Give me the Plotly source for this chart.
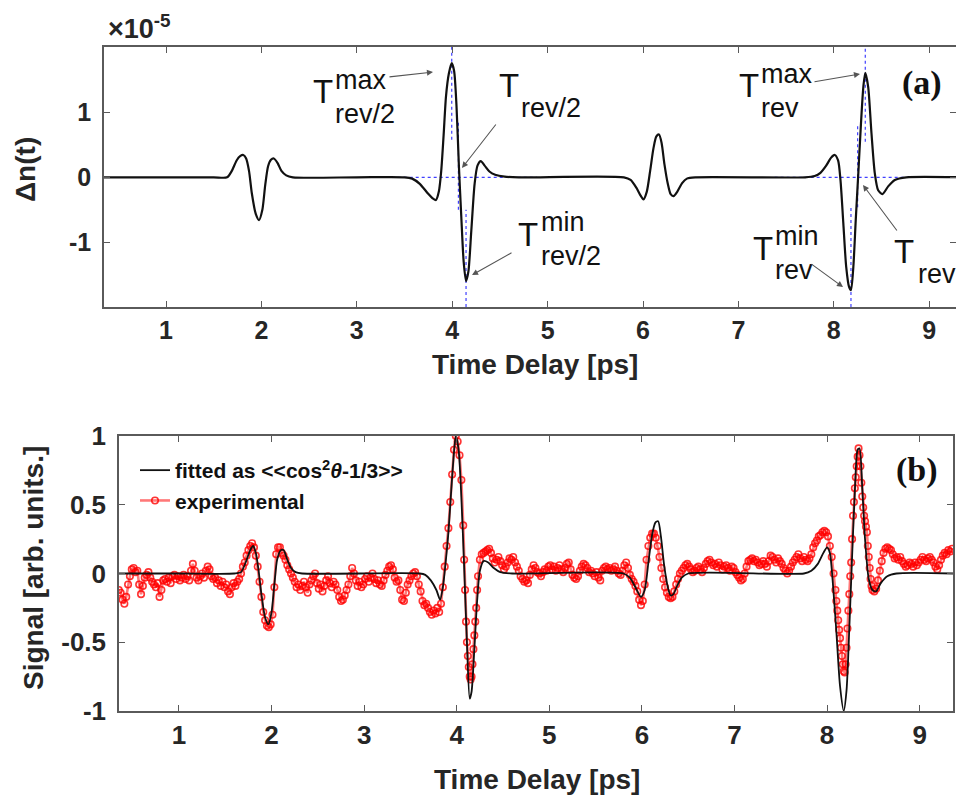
import plotly.graph_objects as go

# ---------------- data ----------------
# (a) calculated refractive-index change, units of 1e-5
dn_t = [0.35, 1.0, 1.5, 1.64, 1.69, 1.74, 1.78, 1.81, 1.84, 1.87, 1.90, 1.94, 1.975, 2.01, 2.04,
        2.07, 2.10, 2.13, 2.17, 2.21, 2.26, 2.33, 3.0, 3.5, 3.58, 3.66, 3.74, 3.80, 3.83, 3.86,
        3.885, 3.91, 3.935, 3.965, 3.995, 4.02, 4.045, 4.07, 4.095, 4.12, 4.145, 4.17, 4.20,
        4.235, 4.265, 4.30, 4.34, 4.39, 4.45, 4.55, 4.7, 5.8, 5.87, 5.93, 5.97, 6.005, 6.04,
        6.075, 6.11, 6.14, 6.168, 6.195, 6.225, 6.26, 6.29, 6.32, 6.36, 6.41, 6.46, 6.55, 7.7,
        7.8, 7.86, 7.92, 7.97, 8.01, 8.045, 8.07, 8.10, 8.13, 8.16, 8.18, 8.205, 8.23, 8.257,
        8.285, 8.31, 8.33, 8.36, 8.395, 8.43, 8.465, 8.51, 8.57, 8.64, 8.76, 9.35]
dn_val = [0.0, 0.0, 0.0, 0.0, 0.1, 0.26, 0.33, 0.345, 0.29, 0.1, -0.25, -0.56, -0.66, -0.5, -0.12,
          0.17, 0.27, 0.29, 0.22, 0.1, 0.03, 0.0, 0.0, 0.0, -0.02, -0.1, -0.24, -0.33, -0.35, -0.22,
          0.1, 0.65, 1.25, 1.6, 1.76, 1.64, 1.1, 0.18, -0.6, -1.3, -1.6, -1.45, -0.83,
          -0.1, 0.18, 0.25, 0.18, 0.09, 0.04, 0.01, 0.0, 0.0, -0.04, -0.16, -0.27, -0.34, -0.22,
          0.1, 0.45, 0.63, 0.66, 0.53, 0.2, -0.1, -0.26, -0.29, -0.22, -0.09, -0.02, 0.0, 0.0,
          0.02, 0.07, 0.18, 0.3, 0.345, 0.26, -0.04, -0.71, -1.38, -1.69, -1.74, -1.38, -0.66, 0.06,
          0.83, 1.4, 1.61, 1.4, 0.68, 0.06, -0.2, -0.26, -0.14, -0.04, 0.0, 0.0]

# revival time markers (ps) with the vertical extent of each dotted guide (units of 1e-5)
guide_t = [3.995, 4.065, 4.145, 8.33, 8.25, 8.18]
guide_lo = [0.58, -0.5, -2.0, 0.55, -0.46, -2.0]
guide_hi = [2.02, 0.86, -0.5, 2.02, 0.81, -0.47]
zero_guide_from = [3.24, 7.38]
zero_guide_to = [4.89, 9.03]

# (b) fitted alignment signal <<cos^2(theta) - 1/3>>, normalised
fit_t = [0.35, 1.0, 1.6, 1.67, 1.72, 1.77, 1.80, 1.83, 1.86, 1.89, 1.93, 1.965, 2.0, 2.03, 2.06,
         2.10, 2.13, 2.17, 2.21, 2.26, 2.33, 3.6, 3.66, 3.72, 3.78, 3.82, 3.85, 3.88, 3.91, 3.94,
         3.97, 3.99, 4.02, 4.05, 4.08, 4.11, 4.14, 4.16, 4.19, 4.22, 4.25, 4.29, 4.34, 4.40, 4.47,
         4.6, 5.8, 5.87, 5.93, 5.99, 6.03, 6.07, 6.11, 6.145, 6.175, 6.205, 6.24, 6.28, 6.31, 6.34,
         6.38, 6.43, 6.5, 7.75, 7.83, 7.9, 7.96, 8.0, 8.03, 8.06, 8.10, 8.14, 8.18, 8.21, 8.24,
         8.27, 8.30, 8.33, 8.35, 8.38, 8.41, 8.45, 8.49, 8.53, 8.58, 8.65, 8.75, 9.36]
fit_val = [0.0, 0.0, 0.0, 0.01, 0.08, 0.17, 0.2, 0.15, 0.02, -0.15, -0.32, -0.37, -0.28, -0.08, 0.1,
           0.17, 0.17, 0.1, 0.04, 0.01, 0.0, 0.0, -0.01, -0.05, -0.12, -0.19, -0.1, 0.08, 0.3, 0.6,
           0.88, 1.0, 0.9, 0.55, 0.05, -0.5, -0.91, -0.86, -0.55, -0.2, 0.02, 0.09, 0.08, 0.04, 0.01,
           0.0, 0.0, -0.03, -0.1, -0.17, -0.12, 0.08, 0.28, 0.37, 0.38, 0.27, 0.06, -0.1, -0.16, -0.15,
           -0.09, -0.03, 0.0, 0.0, 0.02, 0.07, 0.15, 0.19, 0.15, -0.05, -0.42, -0.82, -1.0, -0.85, -0.4,
           0.12, 0.6, 0.9, 0.91, 0.62, 0.25, -0.04, -0.12, -0.13, -0.07, -0.02, 0.0, 0.0]

# (b) measured signal, (time delay [ps], signal)
experimental = [
    (0.35, -0.12), (0.37, -0.14), (0.39, -0.19), (0.41, -0.22), (0.43, -0.17), (0.45, -0.08),
    (0.47, -0.02), (0.49, 0.03), (0.51, 0.04), (0.53, 0.01), (0.55, 0.02), (0.57, -0.08),
    (0.59, -0.15), (0.61, -0.09), (0.63, -0.03), (0.65, -0.01), (0.67, 0.01), (0.69, -0.03),
    (0.71, -0.06), (0.73, -0.08), (0.75, -0.10), (0.77, -0.07), (0.79, -0.17), (0.81, -0.12),
    (0.83, -0.05), (0.85, -0.04), (0.87, -0.06), (0.89, -0.03), (0.91, -0.07), (0.93, -0.02),
    (0.95, -0.01), (0.97, -0.04), (0.99, -0.02), (1.01, -0.05), (1.03, -0.03), (1.05, -0.01),
    (1.07, -0.04), (1.09, -0.02), (1.11, -0.05), (1.13, 0.02), (1.15, 0.07), (1.17, 0.02),
    (1.19, -0.03), (1.21, -0.05), (1.23, -0.02), (1.25, 0.00), (1.27, -0.03), (1.29, 0.02),
    (1.31, 0.05), (1.33, 0.03), (1.35, -0.02), (1.37, -0.04), (1.39, -0.03), (1.41, -0.07),
    (1.43, -0.05), (1.45, -0.09), (1.47, -0.06), (1.49, -0.10), (1.51, -0.08), (1.53, -0.13),
    (1.55, -0.15), (1.57, -0.10), (1.59, -0.07), (1.61, -0.09), (1.63, -0.06), (1.65, -0.04),
    (1.67, 0.00), (1.69, 0.05), (1.71, 0.08), (1.73, 0.13), (1.75, 0.17), (1.77, 0.20),
    (1.79, 0.22), (1.81, 0.19), (1.83, 0.13), (1.85, 0.05), (1.87, -0.06), (1.89, -0.17),
    (1.91, -0.28), (1.93, -0.34), (1.95, -0.38), (1.97, -0.39), (1.99, -0.37), (2.01, -0.30),
    (2.03, -0.10), (2.05, 0.14), (2.07, 0.19), (2.09, 0.19), (2.11, 0.15), (2.13, 0.13),
    (2.15, 0.10), (2.17, 0.06), (2.19, 0.03), (2.21, 0.00), (2.23, -0.03), (2.25, -0.06),
    (2.27, -0.10), (2.29, -0.08), (2.31, -0.12), (2.33, -0.09), (2.35, -0.06), (2.37, -0.10),
    (2.39, -0.14), (2.41, -0.08), (2.43, -0.05), (2.45, -0.02), (2.47, 0.00), (2.49, -0.07),
    (2.51, -0.11), (2.53, -0.08), (2.55, -0.13), (2.57, -0.09), (2.59, -0.05), (2.61, -0.02),
    (2.63, -0.07), (2.65, -0.10), (2.67, -0.06), (2.69, -0.08), (2.71, -0.12), (2.73, -0.17),
    (2.75, -0.20), (2.77, -0.19), (2.79, -0.16), (2.81, -0.12), (2.83, -0.08), (2.85, -0.02),
    (2.87, 0.04), (2.89, 0.00), (2.91, -0.05), (2.93, -0.09), (2.95, -0.06), (2.97, -0.10),
    (2.99, -0.08), (3.01, -0.04), (3.03, -0.02), (3.05, -0.06), (3.07, -0.03), (3.09, 0.00),
    (3.11, -0.04), (3.13, -0.07), (3.15, -0.05), (3.17, -0.08), (3.19, -0.09), (3.21, -0.05),
    (3.23, -0.01), (3.25, 0.02), (3.27, 0.05), (3.29, 0.06), (3.31, 0.03), (3.33, -0.03),
    (3.35, -0.06), (3.37, -0.05), (3.39, -0.12), (3.41, -0.19), (3.43, -0.20), (3.45, -0.14),
    (3.47, -0.08), (3.49, -0.05), (3.51, -0.02), (3.53, 0.00), (3.55, 0.01), (3.57, -0.02),
    (3.59, -0.08), (3.61, -0.13), (3.63, -0.20), (3.65, -0.23), (3.67, -0.22), (3.69, -0.25),
    (3.71, -0.28), (3.73, -0.30), (3.75, -0.27), (3.77, -0.29), (3.79, -0.25), (3.81, -0.28),
    (3.83, -0.22), (3.85, -0.10), (3.87, 0.05), (3.89, 0.20), (3.91, 0.33), (3.93, 0.52),
    (3.95, 0.72), (3.97, 0.90), (3.99, 1.00), (4.01, 0.96), (4.03, 0.86), (4.05, 0.68),
    (4.07, 0.35), (4.08, 0.10), (4.09, -0.12), (4.10, -0.35), (4.11, -0.50), (4.12, -0.60),
    (4.13, -0.68), (4.14, -0.75), (4.15, -0.77), (4.16, -0.75), (4.17, -0.66), (4.18, -0.55),
    (4.19, -0.45), (4.20, -0.35), (4.21, -0.25), (4.22, -0.12), (4.23, -0.02), (4.25, 0.10),
    (4.27, 0.14), (4.29, 0.15), (4.31, 0.16), (4.33, 0.17), (4.35, 0.18), (4.37, 0.15),
    (4.39, 0.11), (4.41, 0.08), (4.43, 0.10), (4.45, 0.12), (4.47, 0.09), (4.49, 0.06),
    (4.51, 0.03), (4.53, 0.05), (4.55, 0.08), (4.57, 0.11), (4.59, 0.10), (4.61, 0.12),
    (4.63, 0.08), (4.65, 0.05), (4.67, 0.02), (4.69, -0.02), (4.71, -0.04), (4.73, -0.06),
    (4.75, -0.05), (4.77, -0.07), (4.79, -0.01), (4.81, 0.03), (4.83, 0.06), (4.85, 0.04),
    (4.87, 0.01), (4.89, 0.00), (4.91, -0.02), (4.93, 0.01), (4.95, 0.03), (4.97, 0.02),
    (4.99, 0.05), (5.01, 0.06), (5.03, 0.03), (5.05, 0.05), (5.07, 0.02), (5.09, 0.04),
    (5.11, 0.06), (5.13, 0.03), (5.15, 0.01), (5.17, 0.04), (5.19, 0.07), (5.21, 0.08),
    (5.23, 0.03), (5.25, -0.01), (5.27, -0.03), (5.29, -0.04), (5.31, -0.02), (5.33, 0.02),
    (5.35, 0.05), (5.37, 0.07), (5.39, 0.06), (5.41, 0.04), (5.43, 0.01), (5.45, 0.02),
    (5.47, 0.00), (5.49, -0.02), (5.51, 0.01), (5.53, -0.03), (5.55, -0.05), (5.57, 0.02),
    (5.59, 0.04), (5.61, 0.05), (5.63, 0.03), (5.65, 0.04), (5.67, 0.02), (5.69, 0.03),
    (5.71, 0.05), (5.73, 0.02), (5.75, 0.00), (5.77, -0.01), (5.79, 0.02), (5.81, 0.06),
    (5.83, 0.08), (5.85, 0.04), (5.87, -0.01), (5.89, -0.04), (5.91, -0.06), (5.93, -0.09),
    (5.95, -0.13), (5.97, -0.19), (5.99, -0.23), (6.01, -0.20), (6.03, -0.08), (6.05, 0.10),
    (6.07, 0.20), (6.09, 0.26), (6.11, 0.29), (6.13, 0.29), (6.15, 0.26), (6.17, 0.20),
    (6.19, 0.12), (6.21, 0.04), (6.23, -0.04), (6.25, -0.10), (6.27, -0.14), (6.29, -0.17),
    (6.31, -0.18), (6.33, -0.17), (6.35, -0.13), (6.37, -0.08), (6.39, -0.04), (6.41, 0.00),
    (6.43, 0.02), (6.45, 0.04), (6.47, 0.06), (6.49, 0.07), (6.51, 0.05), (6.53, 0.03),
    (6.55, 0.01), (6.57, 0.02), (6.59, 0.04), (6.61, 0.05), (6.63, 0.03), (6.65, 0.01),
    (6.67, 0.04), (6.69, 0.07), (6.71, 0.09), (6.73, 0.10), (6.75, 0.08), (6.77, 0.06),
    (6.79, 0.07), (6.81, 0.05), (6.83, 0.08), (6.85, 0.06), (6.87, 0.03), (6.89, 0.05),
    (6.91, 0.06), (6.93, 0.04), (6.95, 0.02), (6.97, 0.05), (6.99, 0.04), (7.01, 0.01),
    (7.03, -0.01), (7.05, -0.03), (7.07, -0.05), (7.09, -0.04), (7.11, 0.00), (7.13, 0.05),
    (7.15, 0.09), (7.17, 0.10), (7.19, 0.11), (7.21, 0.09), (7.23, 0.10), (7.25, 0.08),
    (7.27, 0.06), (7.29, 0.07), (7.31, 0.09), (7.33, 0.07), (7.35, 0.05), (7.37, 0.09),
    (7.39, 0.13), (7.41, 0.12), (7.43, 0.10), (7.45, 0.08), (7.47, 0.11), (7.49, 0.09),
    (7.51, 0.07), (7.53, 0.04), (7.55, 0.02), (7.57, 0.00), (7.59, 0.02), (7.61, 0.05),
    (7.63, 0.08), (7.65, 0.10), (7.67, 0.12), (7.69, 0.14), (7.71, 0.11), (7.73, 0.09),
    (7.75, 0.12), (7.77, 0.10), (7.79, 0.09), (7.81, 0.11), (7.83, 0.14), (7.85, 0.19),
    (7.87, 0.22), (7.89, 0.24), (7.91, 0.27), (7.93, 0.28), (7.95, 0.30), (7.97, 0.31),
    (7.99, 0.30), (8.01, 0.27), (8.03, 0.20), (8.05, 0.12), (8.07, 0.00), (8.09, -0.12),
    (8.10, -0.20), (8.11, -0.27), (8.12, -0.34), (8.13, -0.41), (8.14, -0.47), (8.15, -0.54),
    (8.16, -0.60), (8.17, -0.66), (8.18, -0.71), (8.19, -0.72), (8.20, -0.66), (8.21, -0.54),
    (8.22, -0.40), (8.23, -0.27), (8.24, -0.15), (8.25, -0.02), (8.26, 0.08), (8.27, 0.25),
    (8.28, 0.42), (8.29, 0.52), (8.30, 0.62), (8.31, 0.70), (8.32, 0.78), (8.33, 0.85),
    (8.34, 0.91), (8.35, 0.86), (8.36, 0.78), (8.37, 0.66), (8.38, 0.56), (8.39, 0.48),
    (8.40, 0.42), (8.41, 0.38), (8.42, 0.34), (8.43, 0.30), (8.44, 0.20), (8.45, 0.12),
    (8.46, 0.04), (8.47, -0.04), (8.48, -0.09), (8.49, -0.12), (8.51, -0.13), (8.53, -0.11),
    (8.55, -0.05), (8.57, 0.02), (8.59, 0.09), (8.61, 0.15), (8.63, 0.18), (8.65, 0.19),
    (8.67, 0.18), (8.69, 0.17), (8.71, 0.14), (8.73, 0.11), (8.75, 0.12), (8.77, 0.10),
    (8.79, 0.12), (8.81, 0.09), (8.83, 0.07), (8.85, 0.05), (8.87, 0.06), (8.89, 0.08),
    (8.91, 0.07), (8.93, 0.05), (8.95, 0.08), (8.97, 0.06), (8.99, 0.08), (9.01, 0.10),
    (9.03, 0.12), (9.05, 0.10), (9.07, 0.09), (9.09, 0.11), (9.11, 0.12), (9.13, 0.10),
    (9.15, 0.08), (9.17, 0.05), (9.19, 0.03), (9.21, 0.06), (9.23, 0.10), (9.25, 0.13),
    (9.27, 0.15), (9.29, 0.14), (9.31, 0.17), (9.33, 0.16), (9.35, 0.18),
]
exp_t = [p[0] for p in experimental]
exp_sig = [p[1] for p in experimental]

x_ticks = [1, 2, 3, 4, 5, 6, 7, 8, 9]
dn_ticks = [-1, 0, 1]
sig_ticks = [-1, -0.5, 0, 0.5, 1]
sig_ticktext = ["-1", "-0.5", "0", "0.5", "1"]

# ---------------- figure ----------------
W, H = 956, 796
def px(x):
    return x / W
def py(y):
    return 1 - y / H

SANS = "Liberation Sans, Arial, Helvetica, sans-serif"
SERIF = "Liberation Serif, Times New Roman, serif"
AX = "#5a5a5a"
TXT = "#262626"
BLUE = "rgba(30,30,255,0.85)"

fig = go.Figure()

# dotted guides on panel (a)
for t0, lo, hi in zip(guide_t, guide_lo, guide_hi):
    fig.add_trace(go.Scatter(x=[t0, t0], y=[lo, hi], mode="lines", xaxis="x", yaxis="y",
                             line=dict(color=BLUE, width=1.2, dash="dot"),
                             showlegend=False, hoverinfo="skip"))
for a, b in zip(zero_guide_from, zero_guide_to):
    fig.add_trace(go.Scatter(x=[a, b], y=[0, 0], mode="lines", xaxis="x", yaxis="y",
                             line=dict(color=BLUE, width=1.2, dash="dot"),
                             showlegend=False, hoverinfo="skip"))

fig.add_trace(go.Scatter(x=dn_t, y=dn_val, mode="lines", xaxis="x", yaxis="y",
                         line=dict(color="#111111", width=2.2, shape="spline", smoothing=0.7),
                         showlegend=False))

fig.add_trace(go.Scatter(x=exp_t, y=exp_sig, mode="lines+markers", xaxis="x2", yaxis="y2",
                         name="experimental", legendrank=2,
                         line=dict(color="rgba(255,30,30,0.6)", width=2.6),
                         marker=dict(symbol="circle-open", size=6.5,
                                     color="rgba(255,0,0,0.8)", line=dict(width=1.6))))
fig.add_trace(go.Scatter(x=fit_t, y=fit_val, mode="lines", xaxis="x2", yaxis="y2",
                         name="fitted as &lt;&lt;cos<sup>2</sup><i>θ</i>-1/3&gt;&gt;", legendrank=1,
                         line=dict(color="#111111", width=1.8, shape="spline", smoothing=0.7)))

axis_common = dict(showgrid=False, zeroline=False, showline=True, linecolor=AX, linewidth=1.5,
                   mirror="allticks", ticks="inside", ticklen=6, tickwidth=1.2, tickcolor=AX,
                   automargin=False)

fig.update_layout(
    width=W, height=H, margin=dict(l=0, r=0, t=0, b=0, autoexpand=False),
    paper_bgcolor="white", plot_bgcolor="white",
    xaxis=dict(domain=[px(104), 1.0], range=[0.35, 9.281], tickvals=x_ticks, anchor="y",
               tickfont=dict(family=SANS, size=25, color=TXT, weight="bold"),
               ticklabelstandoff=0, **axis_common),
    yaxis=dict(domain=[py(307), py(47)], range=[-2.0, 2.01], tickvals=dn_ticks,
               ticktext=["-1", "0", "1"], anchor="x",
               tickfont=dict(family=SANS, size=25, color=TXT, weight="bold"),
               ticklabelstandoff=6, **axis_common),
    xaxis2=dict(domain=[px(119), px(953)], range=[0.352, 9.36], tickvals=x_ticks, anchor="y2",
                tickfont=dict(family=SANS, size=26, color=TXT, weight="bold"),
                ticklabelstandoff=0, **axis_common),
    yaxis2=dict(domain=[py(711), py(436)], range=[-1, 1], tickvals=sig_ticks,
                ticktext=sig_ticktext, anchor="x2",
                tickfont=dict(family=SANS, size=26, color=TXT, weight="bold"),
                ticklabelstandoff=6, **axis_common),
    legend=dict(x=px(135), y=py(450), xanchor="left", yanchor="top",
                bgcolor="rgba(0,0,0,0)", borderwidth=0, itemwidth=30,
                font=dict(family=SANS, size=21, color="#111111", weight="bold")),
    showlegend=True,
)

ann = []
def text(x, y, s, size, bold=False, family=SANS, angle=0, xanchor="center", color="#111111"):
    ann.append(dict(xref="paper", yref="paper", x=px(x), y=py(y), text=s, showarrow=False,
                    xanchor=xanchor, yanchor="middle", textangle=angle,
                    font=dict(family=family, size=size, color=color,
                              weight="bold" if bold else "normal")))

def arrow(x0, y0, x1, y1):
    ann.append(dict(xref="paper", yref="paper", x=px(x1), y=py(y1), ax=x0 - x1, ay=y0 - y1,
                    text="", showarrow=True, arrowhead=2, arrowsize=1.1, arrowwidth=1.1,
                    arrowcolor="#555555"))

# axis titles
text(535, 364, "Time Delay [ps]", 28, bold=True, color=TXT)
text(537, 779, "Time Delay [ps]", 28, bold=True, color=TXT)
text(26, 170, "Δn(t)", 28, bold=True, angle=-90, color=TXT)
text(33, 568, "Signal [arb. units.]", 28, bold=True, angle=-90, color=TXT)
text(106, 27, "×10<sup>-5</sup>", 27, bold=True, xanchor="left", color=TXT)

# panel labels
text(922, 83, "(a)", 34, bold=True, family=SERIF, color="#111111")
text(917, 470, "(b)", 34, bold=True, family=SERIF, color="#111111")

# stacked T labels: T, superscript, subscript
def tlabel(xT, yT, sup, sub, xs):
    text(xT, yT, "T", 33, xanchor="left")
    if sup:
        text(xs, yT - 12, sup, 27, xanchor="left")
    text(xs, yT + 22, sub, 27, xanchor="left")

tlabel(311, 92, "max", "rev/2", 333)
tlabel(497, 86, None, "rev/2", 519)
tlabel(516, 234, "min", "rev/2", 539)
tlabel(737, 86, "max", "rev", 759)
tlabel(751, 248, "min", "rev", 773)
tlabel(892, 252, None, "rev", 916)

arrow(388, 77, 433, 72)
arrow(497, 123, 462, 168)
arrow(513, 252, 472, 275)
arrow(813, 82, 860, 74)
arrow(810, 263, 843, 287)
arrow(898, 232, 863, 185)

fig.update_layout(annotations=ann)
fig.write_html("out.html")
